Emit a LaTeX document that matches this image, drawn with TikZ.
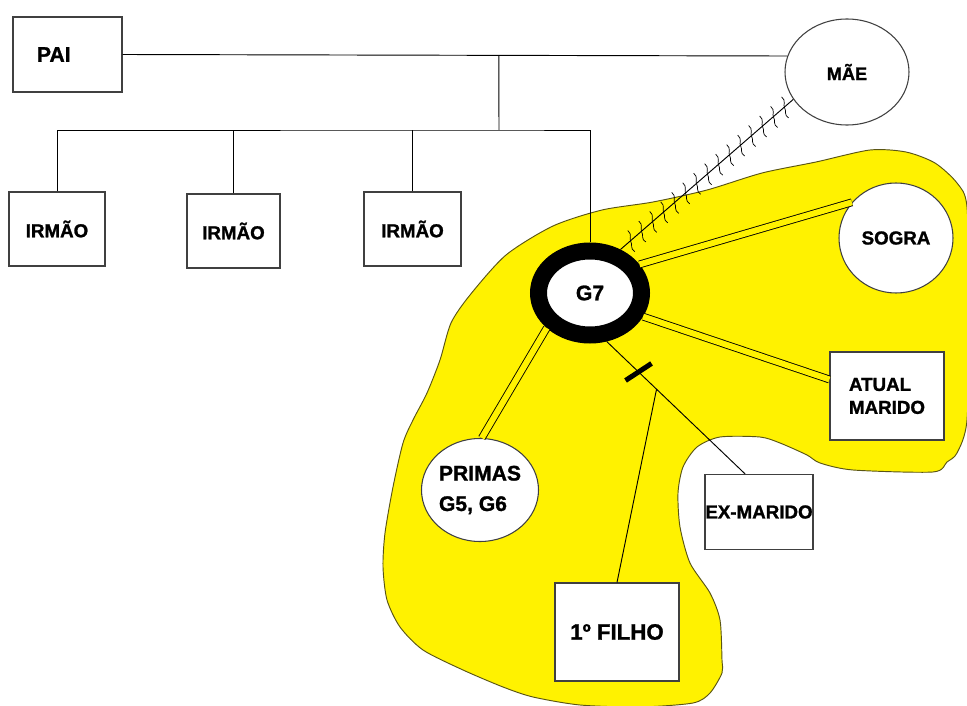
\documentclass[tikz,border=0pt]{standalone}
\usepackage{fontspec}
\setmainfont{Liberation Sans}[BoldFeatures={FakeBold=1.3}]
\usetikzlibrary{shapes.geometric,calc}

\definecolor{blobyellow}{RGB}{255,242,0}
\definecolor{blobedge}{RGB}{90,85,20}

\tikzset{
  person/.style={draw=black!75, fill=white, line width=0.9pt, inner sep=0pt,
    font=\bfseries\fontsize{16}{19}\selectfont},
  box/.style={person, rectangle},
  round/.style={person, ellipse},
  tie/.style={line width=0.8pt},
  closetie/.style={draw=black, line width=0.75pt, double=blobyellow, double distance=0.18cm},
  tickmark/.style={line width=0.6pt},
  blob/.style={fill=blobyellow, draw=blobedge, line width=0.8pt},
}

\begin{document}
\begin{tikzpicture}[x=0.03cm,y=-0.03cm]
\useasboundingbox (0,0) rectangle (967,706);
\fill[white] (0,0) rectangle (967,706);

\draw[blob] plot[smooth cycle,tension=0.45] coordinates {
  (440,360) (451,323) (470,295) (506,255) (553,226) (602,210) (653,202)
  (707,190) (762,173) (816,162) (870,150) (906,152) (935,163) (957,183)
  (967,207) (969,310) (967,420) (957,453) (947,462) (933,472) (853,470)
  (820,463) (807,455) (780,443) (760,437) (720,437) (697,447) (683,467)
  (678,493) (680,527) (690,563) (710,593) (720,620) (722,660) (722,673)
  (710,693) (693,703) (640,707) (580,705) (533,697) (503,687) (463,670)
  (423,650) (400,627) (387,600) (383,567) (385,533) (393,487) (403,443)
  (413,420) (427,393)};

\node[box, minimum width=3.27cm, minimum height=2.25cm, inner xsep=0.72cm,
  text width=1.83cm, align=left, font=\bfseries\fontsize{18}{21}\selectfont] (pai) at (67.5,54.5) {PAI};
\node[round, minimum width=3.72cm, minimum height=3.18cm, font=\bfseries\fontsize{15.5}{18}\selectfont] (mae) at (847,72) {MÃE};
\node[box, minimum width=2.88cm, minimum height=2.22cm] (irmao1) at (57,229) {IRMÃO};
\node[box, minimum width=2.79cm, minimum height=2.22cm] (irmao2) at (233.5,231) {IRMÃO};
\node[box, minimum width=2.91cm, minimum height=2.22cm] (irmao3) at (412.5,229) {IRMÃO};
\node[ellipse, draw=black, fill=white, line width=0.51cm, inner sep=0pt,
  minimum width=3.09cm, minimum height=2.52cm,
  font=\bfseries\fontsize{18}{21}\selectfont] (g7) at (590,293) {G7};
\node[round, minimum width=3.42cm, minimum height=3.3cm] (sogra) at (896,238) {SOGRA};
\node[box, minimum width=3.42cm, minimum height=2.64cm, align=left,
  font=\bfseries\fontsize{16}{19.6}\selectfont] (atual) at (887,396) {ATUAL\\MARIDO};
\node[round, minimum width=3.51cm, minimum height=3.09cm, align=left,
  font=\bfseries\fontsize{18}{26}\selectfont] (primas) at (480,490) {PRIMAS\\G5, G6};
\node[box, minimum width=3.24cm, minimum height=2.25cm] (exmarido) at (759,512) {EX-MARIDO};
\node[box, minimum width=3.72cm, minimum height=2.94cm,
  font=\bfseries\fontsize{19}{22}\selectfont] (filho) at (617,632) {1º FILHO};

\draw[tie] (pai.east) -- coordinate[pos=0.566] (top) (mae.165);
\coordinate (sib) at (499,130);
\draw[tie] (top) -- (sib);
\draw[tie] (irmao1.north) |- (sib) -| (g7.north);
\draw[tie] (irmao2.north) -- (irmao2.north |- sib);
\draw[tie] (irmao3.north) -- (irmao3.north |- sib);

\draw[tie] (mae.207) -- (g7.55);
\foreach \i [evaluate=\i as \t using 0.05+0.0636*\i] in {0,...,14}
  \draw[tickmark, shift={($(mae.207)!\t!(g7.55)$)}]
    (-3,-10) .. controls (2,-6) and (-2,-2) .. (0,1) .. controls (2,4) and (-1,8) .. (4,11);

\draw[closetie] (g7.30) -- (sogra.141);
\draw[closetie] (g7.-24) -- (atual.164);
\draw[closetie] (g7.219) -- (primas.88);

\draw[tie] (g7.-71.6) -- coordinate[pos=0.23] (cut) coordinate[pos=0.36] (fork) (exmarido.110);
\draw[line width=0.15cm, shift={(cut)}] (-13,8.5) -- (13,-8.5);
\draw[tie] (fork) -- (filho.north);
\end{tikzpicture}
\end{document}
